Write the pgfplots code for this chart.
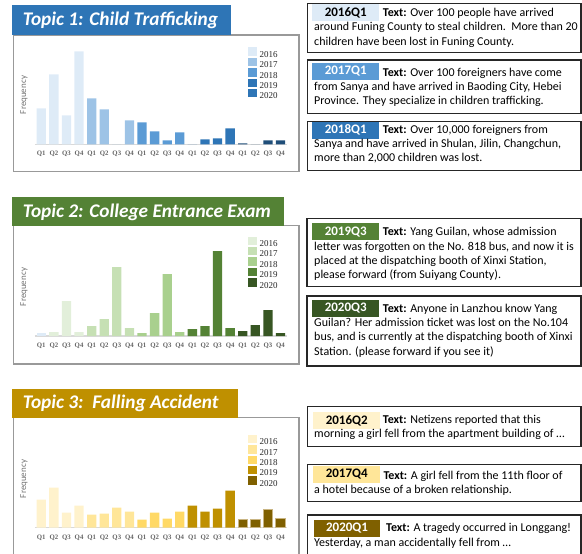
\documentclass[border=0pt]{standalone}
\usepackage{pgfplots}
\pgfplotsset{compat=1.18}
\usepackage{fontspec}
\setmainfont{Carlito}
\newfontfamily\serifx{Liberation Serif}
\definecolor{b1}{HTML}{DEEBF7}
\definecolor{b2}{HTML}{9DC3E6}
\definecolor{b3}{HTML}{5B9BD5}
\definecolor{b4}{HTML}{2E75B6}
\definecolor{b5}{HTML}{1F4E79}
\definecolor{g1}{HTML}{E2EFDA}
\definecolor{g2}{HTML}{C6E0B4}
\definecolor{g3}{HTML}{A9D08E}
\definecolor{g4}{HTML}{548235}
\definecolor{g5}{HTML}{375623}
\definecolor{y1}{HTML}{FFF2CC}
\definecolor{y2}{HTML}{FFE699}
\definecolor{y3}{HTML}{FFD966}
\definecolor{y4}{HTML}{BF9000}
\definecolor{y5}{HTML}{7F6000}
\definecolor{ytan}{HTML}{C9B583}
\pgfplotsset{
  topic/.style={
    scale only axis, width=251.8pt, height=100pt,
    xmin=-0.5, xmax=19.5, ymin=0, ymax=100,
    enlargelimits=false, clip=false,
    axis x line=bottom, axis y line=none,
    x axis line style={-, draw=black!15, line width=1.5pt},
    xtick={0,...,19},
    xticklabels={Q1,Q2,Q3,Q4,Q1,Q2,Q3,Q4,Q1,Q2,Q3,Q4,Q1,Q2,Q3,Q4,Q1,Q2,Q3,Q4},
    major tick length=0pt,
    xticklabel style={font=\serifx\bfseries\fontsize{6.8}{7}\selectfont, text=black!60, yshift=-3.5pt},
    ytick=\empty,
    legend cell align=left,
    legend image code/.code={\path[draw=none,##1] (0pt,-1.5pt) rectangle (8.5pt,7pt);},
    legend style={draw=none, fill=none, inner sep=0pt, outer sep=0pt, anchor=north west,
      row sep=-0.6pt, column sep=2pt, font=\serifx\fontsize{9}{9}\selectfont, text=black!85,
      nodes={inner sep=1pt, text height=6pt, text depth=0pt}},
  },
  bars/.style={ybar, bar width=9.3pt, bar shift=0pt, draw=none, fill=#1, forget plot},
}
\tikzset{
  frame/.style={draw=black!40, line width=1.2pt},
  tb/.style={draw=black!85, line width=1.3pt},
  lab/.style={minimum width=67pt, minimum height=17pt, inner sep=0pt, font=\bfseries\fontsize{13}{13}\selectfont},
  tl/.style={anchor=base west, inner sep=0pt, font=\fontsize{12}{14}\selectfont},
  ban/.style={anchor=base west, inner sep=0pt, text=white, font=\bfseries\itshape\fontsize{19.3}{19.3}\selectfont},
  freq/.style={rotate=90, inner sep=0pt, text=black!55, font=\fontsize{9}{9}\selectfont},
}
\begin{document}
\begin{tikzpicture}
\path[use as bounding box] (0pt,0pt) rectangle (582pt,-554pt);
\begin{scope}[x=1pt,y=-1pt]
  \draw[frame] (13.3,35) rectangle (299,171.7);
  \draw[frame] (13.3,225.7) rectangle (299,364);
  \draw[frame] (13.3,417.7) rectangle (299,560);
  \node[freq] at (24,95) {Frequency};
  \node[freq] at (24,287) {Frequency};
  \node[freq] at (24,479) {Frequency};
\end{scope}

% ---------- Topic 1 ----------
\begin{axis}[topic, at={(35pt,-144.3pt)}, anchor=south west,
  legend style={at={(rel axis cs:0.846,0.97)}}]
  \addplot[bars=b1] coordinates {(0,36) (1,70) (2,29) (3,93)};
  \addplot[bars=b2] coordinates {(4,46) (5,35) (6,0) (7,24)};
  \addplot[bars=b3] coordinates {(8,22) (9,13) (10,4) (11,12)};
  \addplot[bars=b4] coordinates {(12,0) (13,5) (14,6) (15,16)};
  \addplot[bars=b5] coordinates {(16,1) (17,0) (18,4) (19,4)};
  \addlegendimage{fill=b1}\addlegendentry{2016}
  \addlegendimage{fill=b2}\addlegendentry{2017}
  \addlegendimage{fill=b3}\addlegendentry{2018}
  \addlegendimage{fill=b4}\addlegendentry{2019}
  \addlegendimage{fill=b4}\addlegendentry{2020}
\end{axis}

% ---------- Topic 2 ----------
\begin{axis}[topic, at={(35pt,-336pt)}, anchor=south west,
  legend style={at={(rel axis cs:0.846,0.995)}}]
  \addplot[bars=b1] coordinates {(0,3)};
  \addplot[bars=g1] coordinates {(1,4) (2,35) (3,4)};
  \addplot[bars=g2] coordinates {(4,10) (5,17) (6,69) (7,8)};
  \addplot[bars=g3] coordinates {(8,3) (9,23) (10,62) (11,4)};
  \addplot[bars=g4] coordinates {(12,7) (13,10) (14,85) (15,8)};
  \addplot[bars=g5] coordinates {(16,5) (17,11) (18,26) (19,3)};
  \addlegendimage{fill=g1}\addlegendentry{2016}
  \addlegendimage{fill=g2}\addlegendentry{2017}
  \addlegendimage{fill=g3}\addlegendentry{2018}
  \addlegendimage{fill=g4}\addlegendentry{2019}
  \addlegendimage{fill=g5}\addlegendentry{2020}
\end{axis}

% ---------- Topic 3 ----------
\begin{axis}[topic, at={(35pt,-527.7pt)}, anchor=south west,
  legend style={at={(rel axis cs:0.846,0.93)}}]
  \addplot[bars=y1] coordinates {(0,28) (1,40) (2,15) (3,22)};
  \addplot[bars=y2] coordinates {(4,13) (5,14) (6,20) (7,16)};
  \addplot[bars=y3] coordinates {(8,8) (9,15) (10,9) (11,16)};
  \addplot[bars=y4] coordinates {(12,22) (13,16) (14,19) (15,37)};
  \addplot[bars=y5, draw=ytan, line width=0.8pt] coordinates {(16,8) (17,8) (18,18) (19,9)};
  \addlegendimage{fill=y1}\addlegendentry{2016}
  \addlegendimage{fill=y2}\addlegendentry{2017}
  \addlegendimage{fill=y3}\addlegendentry{2018}
  \addlegendimage{fill=y4}\addlegendentry{2019}
  \addlegendimage{fill=y5, draw=ytan, line width=0.8pt}\addlegendentry{2020}
\end{axis}

\begin{scope}[x=1pt,y=-1pt]
  % banners
  \fill[b4] (12.3,5) rectangle (231,35);
  \node[ban] at (22.7,26) {Topic 1: Child Trafficking};
  \fill[g4] (12.3,196.7) rectangle (284,225.7);
  \node[ban] at (22.7,217.3) {Topic 2: College Entrance Exam};
  \fill[y4] (12.3,389) rectangle (237.7,417.7);
  \node[ban] at (22.7,408.3) {Topic 3:\ \ Falling Accident};

  % box 1
  \draw[tb] (307.3,3.3) rectangle (581,52.7);
  \node[lab, fill=b1, text=black] at (345.7,12.5) {2016Q1};
  \node[tl] at (382.7,16.7) {\textbf{Text:} Over 100 people have arrived};
  \node[tl] at (314,30.9) {around Funing County to steal children.\ \ More than 20};
  \node[tl] at (314,45.1) {children have been lost in Funing County.};
  % box 2
  \draw[tb] (307.3,60) rectangle (581,113.3);
  \node[lab, fill=b3, text=white] at (345.7,71.5) {2017Q1};
  \node[tl] at (382.7,76) {\textbf{Text:} Over 100 foreigners have come};
  \node[tl] at (314,90.3) {from Sanya and have arrived in Baoding City, Hebei};
  \node[tl] at (314,104.6) {Province. They specialize in children trafficking.};
  % box 3
  \draw[tb] (307.3,121.7) rectangle (581,170.7);
  \node[lab, fill=b4, text=white] at (345.7,130.2) {2018Q1};
  \node[tl] at (382.7,133) {\textbf{Text:} Over 10,000 foreigners from};
  \node[tl] at (314,147.3) {Sanya and have arrived in Shulan, Jilin, Changchun,};
  \node[tl] at (314,161.6) {more than 2,000 children was lost.};
  % box 4
  \draw[tb] (307,218.3) rectangle (581,286.7);
  \node[lab, fill=g4, text=white] at (345.7,231.7) {2019Q3};
  \node[tl] at (382.7,235.7) {\textbf{Text:} Yang Guilan, whose admission};
  \node[tl] at (314,250) {letter was forgotten on the No. 818 bus, and now it is};
  \node[tl] at (314,264.2) {placed at the dispatching booth of Xinxi Station,};
  \node[tl] at (314,278.4) {please forward (from Suiyang County).};
  % box 5
  \draw[tb] (307,296) rectangle (581,366);
  \node[lab, fill=g5, text=white] at (345.7,308.3) {2020Q3};
  \node[tl] at (382.7,312.3) {\textbf{Text:} Anyone in Lanzhou know Yang};
  \node[tl] at (314,326.6) {Guilan? Her admission ticket was lost on the No.104};
  \node[tl] at (314,340.8) {bus, and is currently at the dispatching booth of Xinxi};
  \node[tl] at (314,355) {Station. (please forward if you see it)};
  % box 6
  \draw[tb] (307.3,406.7) rectangle (581,446.7);
  \node[lab, fill=y1, text=black] at (346.7,420.7) {2016Q2};
  \node[tl] at (382.7,423.8) {\textbf{Text:} Netizens reported that this};
  \node[tl] at (314,437.8) {morning a girl fell from the apartment building of \ldots};
  % box 7
  \draw[tb] (307.3,464.3) rectangle (581,501.7);
  \node[lab, fill=y2, text=black] at (346.7,474.3) {2017Q4};
  \node[tl] at (383.3,479) {\textbf{Text:} A girl fell from the 11th floor of};
  \node[tl] at (314,493.3) {a hotel because of a broken relationship.};
  % box 8
  \draw[tb] (307.3,515) rectangle (581,570);
  \node[lab, fill=y5, text=white, minimum width=66pt] at (347,528.3) {2020Q1};
  \node[tl] at (386,531.7) {\textbf{Text:} A tragedy occurred in Longgang!};
  \node[tl] at (314,546.5) {Yesterday, a man accidentally fell from \ldots};
\end{scope}
\end{tikzpicture}
\end{document}
